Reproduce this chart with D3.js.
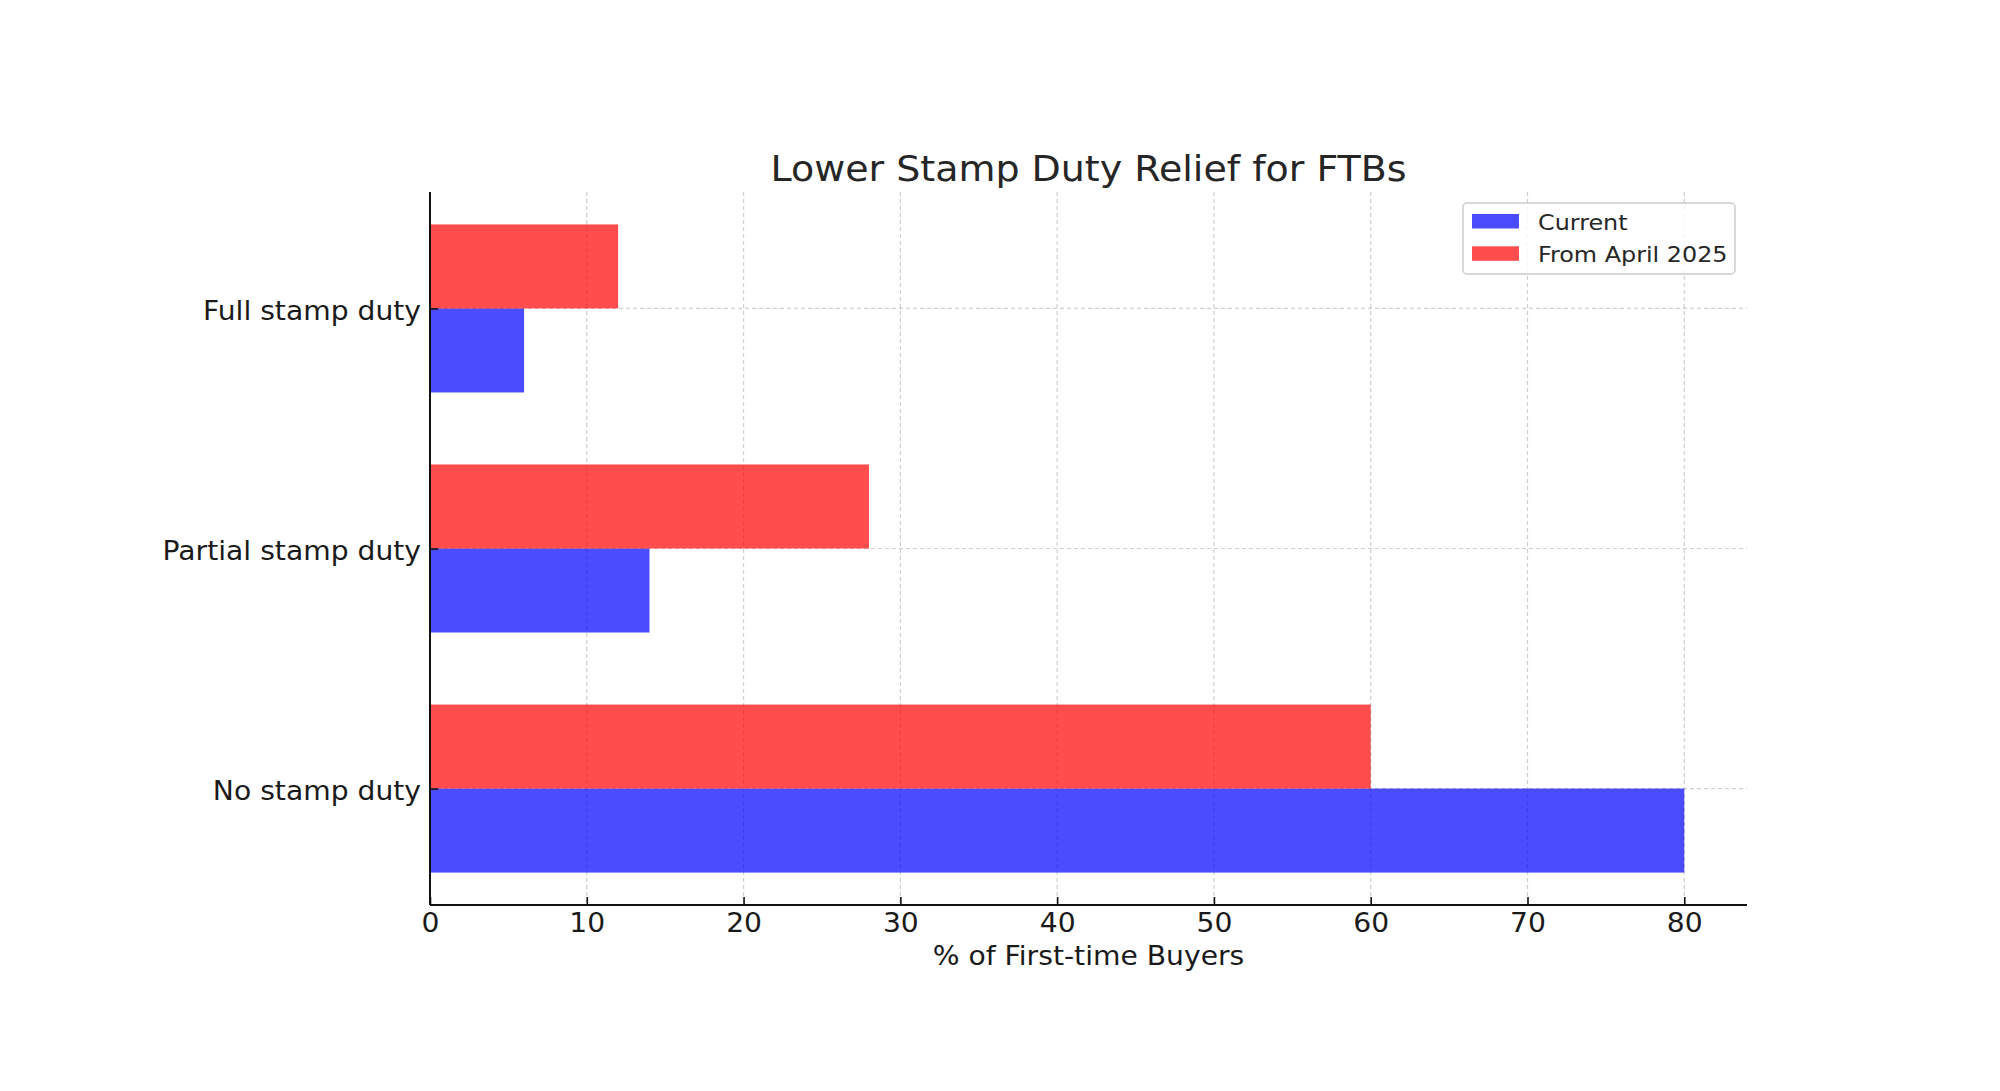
<!DOCTYPE html>
<html>
<head>
<meta charset="utf-8">
<script src="https://cdn.jsdelivr.net/npm/d3@7"></script>
<style>
  html, body { margin: 0; padding: 0; background: #fff; }
  svg { display: block; font-family: "DejaVu Sans", sans-serif; }
</style>
</head>
<body>
<svg id="chart" width="2000" height="1091"></svg>
<script>
// Data
const categories = ["No stamp duty", "Partial stamp duty", "Full stamp duty"];
const currentValues = [80, 14, 6];
const april2025Values = [60, 28, 12];
const seriesNames = ["Current", "From April 2025"];
const xTicks = [0, 10, 20, 30, 40, 50, 60, 70, 80];

const title = "Lower Stamp Duty Relief for FTBs";
const xLabel = "% of First-time Buyers";

(function () {
const svg = d3.select("#chart");
const pL = 430, pR = 1747, pT = 192, pB = 905;
const sx = 1.085; // horizontal stretch of glyphs seen in the reference

const x = d3.scaleLinear().domain([0, 84]).range([pL, pR]);
const y = d3.scaleLinear().domain([-0.485, 2.485]).range([pB, pT]);
const barH = 0.35;

const colors = { cur: "rgba(0,0,255,0.7)", apr: "rgba(255,0,0,0.7)" };

// Gridlines
const grid = svg.append("g");
grid.selectAll("line.vx").data(xTicks).enter().append("line")
  .attr("x1", d => x(d)).attr("x2", d => x(d))
  .attr("y1", pT).attr("y2", pB)
  .attr("stroke", "#b0b0b0").attr("stroke-opacity", 0.6)
  .attr("stroke-width", 1.2).attr("stroke-dasharray", "4,3");
grid.selectAll("line.hy").data(categories).enter().append("line")
  .attr("x1", pL).attr("x2", pR)
  .attr("y1", (d, i) => y(i)).attr("y2", (d, i) => y(i))
  .attr("stroke", "#b0b0b0").attr("stroke-opacity", 0.6)
  .attr("stroke-width", 1.2).attr("stroke-dasharray", "4,3");

// Bars
const bars = svg.append("g");
bars.selectAll("rect.cur").data(currentValues).enter().append("rect")
  .attr("x", x(0))
  .attr("y", (d, i) => y(i))
  .attr("width", d => x(d) - x(0))
  .attr("height", (d, i) => y(i - barH) - y(i))
  .attr("fill", colors.cur);
bars.selectAll("rect.apr").data(april2025Values).enter().append("rect")
  .attr("x", x(0))
  .attr("y", (d, i) => y(i + barH))
  .attr("width", d => x(d) - x(0))
  .attr("height", (d, i) => y(i) - y(i + barH))
  .attr("fill", colors.apr);

// Axes
const xAxis = d3.axisBottom(x).tickValues(xTicks).tickSizeInner(-8).tickSizeOuter(0).tickPadding(15);
const gx = svg.append("g").attr("transform", `translate(0,${pB})`).call(xAxis);
gx.select(".domain").attr("stroke", "#111").attr("stroke-width", 2)
  .attr("d", `M${pL},0H${pR}`);
gx.selectAll(".tick line").attr("stroke", "#111").attr("stroke-width", 1.6);
gx.selectAll(".tick text").attr("font-size", 26).attr("fill", "#1a1a1a")
  .attr("font-family", "DejaVu Sans").attr("dy", "0.45em")
  .attr("transform", `scale(${sx},1)`);

const yAxis = d3.axisLeft(y).tickValues([0, 1, 2]).tickFormat(i => categories[i])
  .tickSizeInner(-8).tickSizeOuter(0).tickPadding(9);
const gy = svg.append("g").attr("transform", `translate(${pL},0)`).call(yAxis);
gy.select(".domain").attr("stroke", "#111").attr("stroke-width", 2)
  .attr("d", `M0,${pT}V${pB}`);
gy.selectAll(".tick line").attr("stroke", "#111").attr("stroke-width", 1.6);
gy.selectAll(".tick text").attr("font-size", 26).attr("fill", "#1a1a1a")
  .attr("font-family", "DejaVu Sans").attr("dy", "0.42em")
  .attr("transform", `scale(${sx},1)`).attr("x", -9 / sx);

// Title
svg.append("text").attr("transform", `translate(${(pL + pR) / 2},181) scale(${sx},1)`)
  .attr("text-anchor", "middle").attr("font-size", 35).attr("fill", "#262626")
  .text(title);

// X label
svg.append("text").attr("transform", `translate(${(pL + pR) / 2},965) scale(${sx},1)`)
  .attr("text-anchor", "middle").attr("font-size", 26).attr("fill", "#1a1a1a")
  .text(xLabel);

// Legend
const lg = svg.append("g");
lg.append("rect").attr("x", 1463).attr("y", 203).attr("width", 272).attr("height", 71)
  .attr("rx", 4).attr("fill", "#fff").attr("fill-opacity", 0.8)
  .attr("stroke", "#cccccc").attr("stroke-width", 1.5);
const legendItems = [
  { name: seriesNames[0], color: colors.cur },
  { name: seriesNames[1], color: colors.apr }
];
legendItems.forEach((d, i) => {
  lg.append("rect").attr("x", 1472).attr("y", 214 + i * 32.3).attr("width", 47).attr("height", 14.5)
    .attr("fill", d.color);
  lg.append("text").attr("transform", `translate(1538,${230 + i * 32.3}) scale(${sx},1)`)
    .attr("font-size", 22).attr("fill", "#262626").text(d.name);
});
})();
</script>
</body>
</html>
